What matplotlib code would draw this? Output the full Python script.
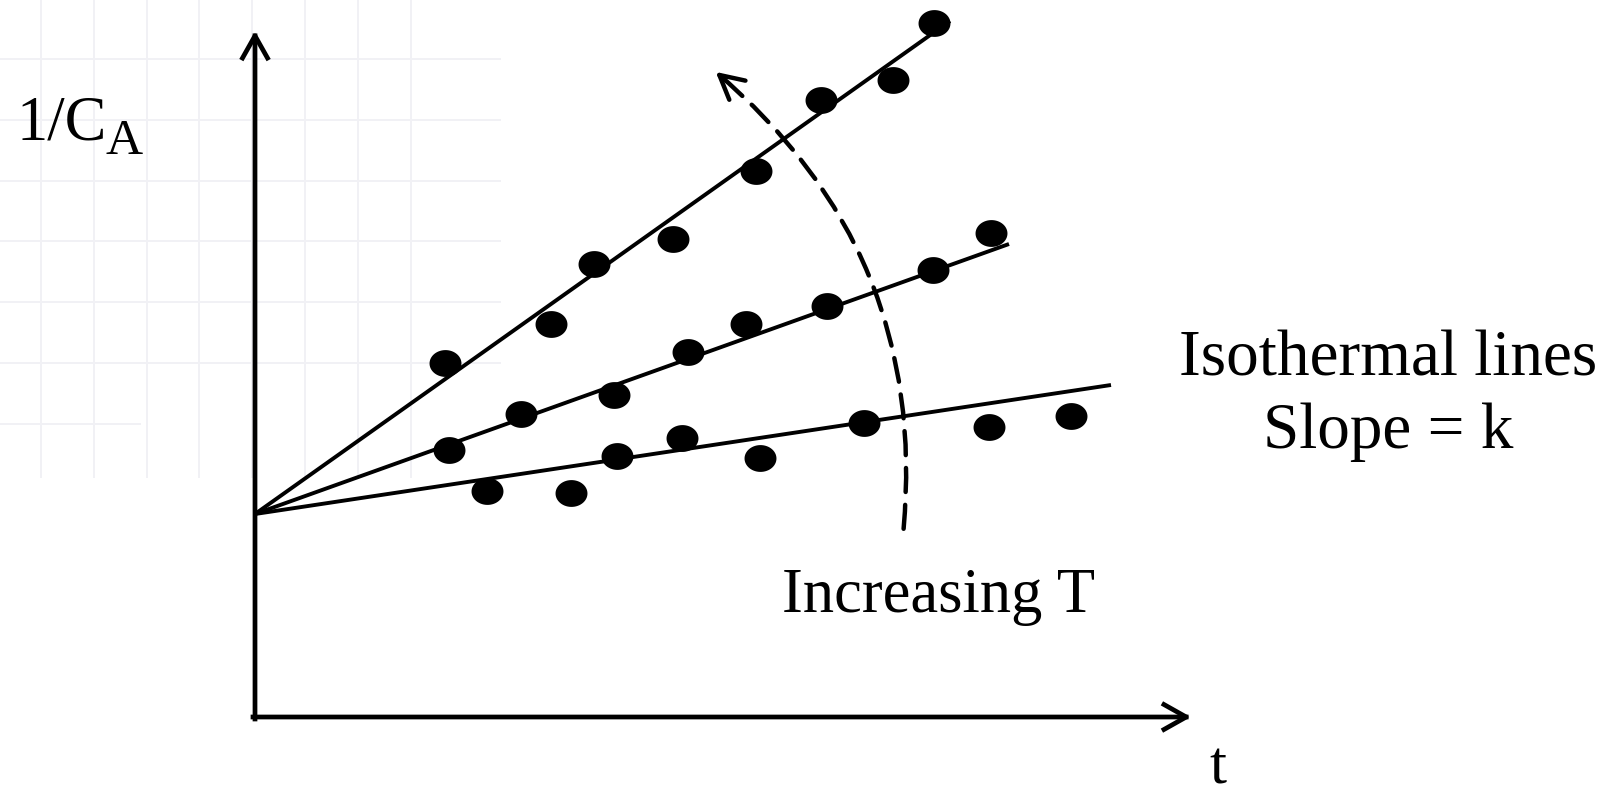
import numpy as np
import matplotlib
matplotlib.use('Agg')
import matplotlib.pyplot as plt
from matplotlib.patches import FancyArrowPatch

plt.rcParams['font.family'] = ['Liberation Serif', 'DejaVu Serif']

# fitted isothermal lines (start and end of each line)
line_t = [[0.0, 6.95], [0.0, 7.54], [0.0, 8.56]]
line_y = [[2.03, 6.96], [2.03, 4.73], [2.03, 3.32]]

# measured points, 1/CA against t, one list per temperature
t_high = [1.90, 2.96, 3.39, 4.18, 5.01, 5.66, 6.38, 6.79]
y_high = [3.54, 3.93, 4.53, 4.78, 5.46, 6.17, 6.37, 6.94]
t_mid = [1.94, 2.66, 3.59, 4.33, 4.91, 5.72, 6.78, 7.36]
y_mid = [2.67, 3.03, 3.22, 3.65, 3.93, 4.11, 4.47, 4.84]
t_low = [2.32, 3.16, 3.62, 4.27, 5.05, 6.09, 7.34, 8.16]
y_low = [2.26, 2.24, 2.61, 2.79, 2.59, 2.94, 2.90, 3.01]

fig = plt.figure(figsize=(16.1, 7.98), dpi=100)
ax = fig.add_axes([0, 0, 1, 1])
ax.set_xlim(-2.55, 13.55)
ax.set_ylim(-0.81, 7.17)
ax.axis('off')

# faint background grid in the top left corner
grid_c = '#f1f1f5'
for gx in np.arange(-2.14, 1.6, 0.528):
    ax.plot([gx, gx], [7.17, 2.40], color=grid_c, lw=1.4, zorder=0)
for i, gy in enumerate(np.arange(6.58, 2.9, -0.608)):
    x_end = 2.45 if i < 6 else -1.15
    ax.plot([-2.55, x_end], [gy, gy], color=grid_c, lw=1.4, zorder=0)

# axes with open arrow heads
axis_arrow = dict(arrowstyle='->,head_length=0.8,head_width=0.45',
                  lw=3.4, color='black', shrinkA=0, shrinkB=0,
                  mutation_scale=20, capstyle='projecting')
ax.annotate('', xy=(0, 6.86), xytext=(0, -0.02), arrowprops=axis_arrow)
ax.annotate('', xy=(9.36, 0), xytext=(-0.02, 0), arrowprops=axis_arrow)

for lt, ly in zip(line_t, line_y):
    ax.plot(lt, ly, color='black', lw=2.8, solid_capstyle='butt', zorder=2)

theta = np.linspace(0, 2 * np.pi, 60)
dot = np.column_stack([np.cos(theta), 0.84 * np.sin(theta)])
for tt, yy in [(t_high, y_high), (t_mid, y_mid), (t_low, y_low)]:
    ax.plot(tt, yy, linestyle='none', marker=dot, markersize=23,
            color='black', markeredgewidth=0, zorder=3)

# dashed "increasing T" arrow
start = np.array([6.486, 1.882])
tip = np.array([4.607, 6.451])
rad = 0.26
curve = FancyArrowPatch(start, tip, connectionstyle=f'arc3,rad={rad}',
                        arrowstyle='-', lw=3.2, color='black',
                        linestyle=(0, (5.4, 2.9)), shrinkA=0, shrinkB=0)
ax.add_patch(curve)
d = tip - start
ctrl = (start + tip) / 2 + rad * np.array([d[1], -d[0]])
tangent = (tip - ctrl) / np.linalg.norm(tip - ctrl)
ax.annotate('', xy=tip, xytext=tip - 0.12 * tangent,
            arrowprops=dict(arrowstyle='->,head_length=0.85,head_width=0.45',
                            lw=3.2, color='black', shrinkA=0, shrinkB=0,
                            mutation_scale=20))

# y label: 1/C with a large subscript A
lab = ax.text(-2.38, 5.77, '1/C', fontsize=45, ha='left', va='baseline')
fig.canvas.draw()
bb = lab.get_window_extent().transformed(ax.transData.inverted())
ax.text(bb.x1 - 0.02, 5.63, 'A', fontsize=37, ha='left', va='baseline')

ax.text(11.33, 3.41, 'Isothermal lines', fontsize=47, ha='center', va='baseline')
ax.text(11.33, 2.69, 'Slope = k', fontsize=47, ha='center', va='baseline')
ax.text(5.27, 1.05, 'Increasing T', fontsize=45, ha='left', va='baseline')
ax.text(9.63, -0.795, 't', fontsize=44, ha='center', va='bottom')

fig.savefig('out.png', dpi=100)
